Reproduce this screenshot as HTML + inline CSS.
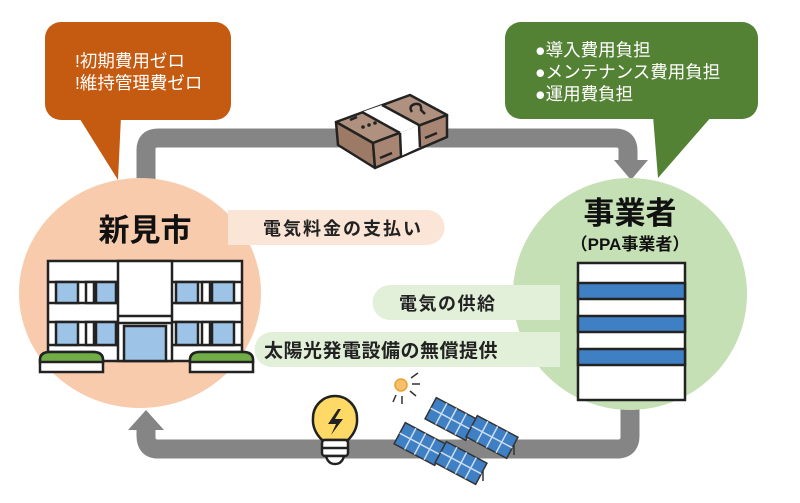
<!DOCTYPE html>
<html><head><meta charset="utf-8"><style>
html,body{margin:0;padding:0;background:#fff;}
svg{display:block;}
text{font-family:"Liberation Sans","Noto Sans CJK JP",sans-serif;}
</style></head><body>
<svg width="800" height="503" viewBox="0 0 800 503" xmlns="http://www.w3.org/2000/svg">
<!-- gray connectors -->
<path d="M146 185 V150 Q146 138 158 138 H615 Q628 138 628 151 V162" fill="none" stroke="#858585" stroke-width="19"/>
<polygon points="614,160 648,160 631,180" fill="#858585"/>
<path d="M630 395 V436 Q630 449 617 449 H158 Q146 449 146 436 V428" fill="none" stroke="#858585" stroke-width="19"/>
<polygon points="128,430 164,430 146,410" fill="#858585"/>

<!-- speech bubbles -->
<rect x="45" y="22" width="186" height="98" rx="16" fill="#c55a11"/>
<polygon points="78,116 118,180 121,116" fill="#c55a11"/>
<text x="75" y="67" font-size="17.5" fill="#fff">!初期費用ゼロ</text>
<text x="75" y="89" font-size="17.5" fill="#fff">!維持管理費ゼロ</text>

<rect x="505" y="22" width="253" height="97" rx="16" fill="#548235"/>
<polygon points="653,116 658,178 712,116" fill="#548235"/>
<text x="535" y="56" font-size="17.5" fill="#fff">●導入費用負担</text>
<text x="535" y="78" font-size="17.5" fill="#fff">●メンテナンス費用負担</text>
<text x="535" y="100" font-size="17.5" fill="#fff">●運用費負担</text>

<!-- circles -->
<ellipse cx="140" cy="293" rx="121" ry="115" fill="#f8cbad"/>
<ellipse cx="630" cy="294" rx="117" ry="116" fill="#c5e0b4"/>

<!-- pills -->
<path d="M228 210 H427 A17 17 0 0 1 427 245 H228 Z" fill="#fbe5d6"/>
<text x="263" y="235" font-size="18" font-weight="bold" fill="#222" letter-spacing="2">電気料金の支払い</text>
<path d="M560 285 H390 A17 17 0 0 0 390 320 H560 Z" fill="#e2f0d9"/>
<text x="399" y="310" font-size="18" font-weight="bold" fill="#222" letter-spacing="1.5">電気の供給</text>
<path d="M560 332 H272 A17 17 0 0 0 272 367 H560 Z" fill="#e2f0d9"/>
<text x="264" y="357" font-size="19" font-weight="bold" fill="#222" letter-spacing="0.5">太陽光発電設備の無償提供</text>

<text x="145" y="241" font-size="31" font-weight="bold" fill="#111" text-anchor="middle">新見市</text>
<text x="630" y="224" font-size="31" font-weight="bold" fill="#111" text-anchor="middle">事業者</text>
<text x="630" y="250" font-size="17" font-weight="bold" fill="#111" text-anchor="middle">（PPA事業者）</text>

<!-- left building -->
<g stroke="#222" stroke-width="2.5">
<rect x="48" y="261" width="194" height="100" fill="#fff"/>
<rect x="118" y="261" width="54" height="100" fill="#fff"/>
<line x1="118" y1="316" x2="172" y2="316"/>
<line x1="118" y1="323" x2="172" y2="323"/>
<rect x="124" y="326" width="42" height="35" fill="#9dc3e6"/>
<line x1="48" y1="282" x2="118" y2="282"/><line x1="48" y1="303" x2="118" y2="303"/>
<line x1="48" y1="322" x2="118" y2="322"/><line x1="48" y1="345" x2="118" y2="345"/>
<line x1="172" y1="282" x2="242" y2="282"/><line x1="172" y1="303" x2="242" y2="303"/>
<line x1="172" y1="322" x2="242" y2="322"/><line x1="172" y1="345" x2="242" y2="345"/>
<rect x="56" y="282" width="22" height="21" fill="#9dc3e6"/><rect x="86" y="282" width="8" height="21" fill="#fff"/><rect x="96" y="282" width="20" height="21" fill="#9dc3e6"/>
<rect x="56" y="322" width="22" height="23" fill="#9dc3e6"/><rect x="86" y="322" width="8" height="23" fill="#fff"/><rect x="96" y="322" width="20" height="23" fill="#9dc3e6"/>
<rect x="176" y="282" width="22" height="21" fill="#9dc3e6"/><rect x="202" y="282" width="8" height="21" fill="#fff"/><rect x="212" y="282" width="22" height="21" fill="#9dc3e6"/>
<rect x="176" y="322" width="22" height="23" fill="#9dc3e6"/><rect x="202" y="322" width="8" height="23" fill="#fff"/><rect x="212" y="322" width="22" height="23" fill="#9dc3e6"/>
<path d="M40 372 V360 Q40 352 50 352 H93 Q103 352 103 360 V372 Z" fill="#fff"/>
<path d="M40 362 V360 Q40 352 50 352 H93 Q103 352 103 360 V362 Z" fill="#70ad47"/>
<path d="M190 372 V360 Q190 352 200 352 H243 Q253 352 253 360 V372 Z" fill="#fff"/>
<path d="M190 362 V360 Q190 352 200 352 H243 Q253 352 253 360 V362 Z" fill="#70ad47"/>
</g>

<!-- right building -->
<g stroke="#222" stroke-width="2.5">
<rect x="578" y="263" width="107" height="137" fill="#fff"/>
<rect x="578" y="283" width="107" height="16" fill="#3f7fc4"/>
<rect x="578" y="316" width="107" height="16" fill="#3f7fc4"/>
<rect x="578" y="349" width="107" height="16" fill="#3f7fc4"/>
</g>

<!-- money (isometric box) -->
<g stroke="#222" stroke-width="2.5" stroke-linejoin="round">
<polygon points="336,122 410,95 447,115 373,143" fill="#b0917f"/>
<polygon points="336,122 373,143 375,168 338,145" fill="#9c7a66"/>
<polygon points="373,143 447,115 447,137 375,168" fill="#a88572"/>
<polygon points="362,112 382,105 419,125 400,133" fill="#fff" stroke="none"/>
<polygon points="400,133 419,125 420,147 401,156" fill="#fff" stroke="none"/>
<line x1="362" y1="112" x2="400" y2="133"/><line x1="382" y1="105" x2="419" y2="125"/>
<line x1="400" y1="133" x2="401" y2="156"/><line x1="419" y1="125" x2="420" y2="147"/>
<circle cx="363" cy="127" r="1.8" fill="#222" stroke="none"/><circle cx="369" cy="125" r="1.8" fill="#222" stroke="none"/><circle cx="375" cy="123" r="1.8" fill="#222" stroke="none"/>
<line x1="350" y1="120" x2="357" y2="117"/>
<line x1="380" y1="158" x2="392" y2="153"/>
<line x1="425" y1="138" x2="437" y2="133"/>
<path d="M412 112 q-4 -6 3 -8 q7 -1 6 6 l4 4" fill="none"/>
</g>

<!-- bulb -->
<g stroke="#222" stroke-width="2.5">
<path d="M322 440 Q312 430 313 418 A22 22 0 0 1 357 418 Q358 430 348 440 Z" fill="#ffd966"/>
<rect x="322" y="440" width="26" height="16" rx="3" fill="#fff"/>
<line x1="322" y1="448" x2="348" y2="448"/>
<path d="M326 456 H344 Q342 464 335 464 Q328 464 326 456 Z" fill="#fff"/>
<polygon points="338,409 328,424 336,424 331,435 343,419 335,419 341,409" fill="#222" stroke="none"/>
</g>

<!-- sun -->
<circle cx="401" cy="385" r="6" fill="#f6c06a" stroke="#e8a030" stroke-width="1.5"/>
<g stroke="#333" stroke-width="1.5">
<line x1="411" y1="378" x2="418" y2="373"/><line x1="412" y1="384" x2="420" y2="384"/><line x1="410" y1="391" x2="416" y2="396"/>
<line x1="396" y1="395" x2="393" y2="402"/><line x1="402" y1="396" x2="402" y2="404"/>
</g>

<!-- solar panels -->
<g stroke="#333" stroke-width="1.5">
<g transform="translate(451 419) rotate(28)"><rect x="-23" y="-12" width="46" height="24" fill="#3f7fc4"/><path d="M-11 -12V12M0 -12V12M11 -12V12M-23 0H23" stroke="#cde"/></g>
<g transform="translate(492 437) rotate(28)"><rect x="-23" y="-12" width="46" height="24" fill="#3f7fc4"/><path d="M-11 -12V12M0 -12V12M11 -12V12M-23 0H23" stroke="#cde"/></g>
<g transform="translate(420 444) rotate(28)"><rect x="-23" y="-12" width="46" height="24" fill="#3f7fc4"/><path d="M-11 -12V12M0 -12V12M11 -12V12M-23 0H23" stroke="#cde"/></g>
<g transform="translate(461 463) rotate(28)"><rect x="-23" y="-12" width="46" height="24" fill="#3f7fc4"/><path d="M-11 -12V12M0 -12V12M11 -12V12M-23 0H23" stroke="#cde"/></g>
<line x1="514" y1="445" x2="514" y2="455"/><line x1="483" y1="471" x2="483" y2="481"/>
</g>
</svg>
</body></html>
